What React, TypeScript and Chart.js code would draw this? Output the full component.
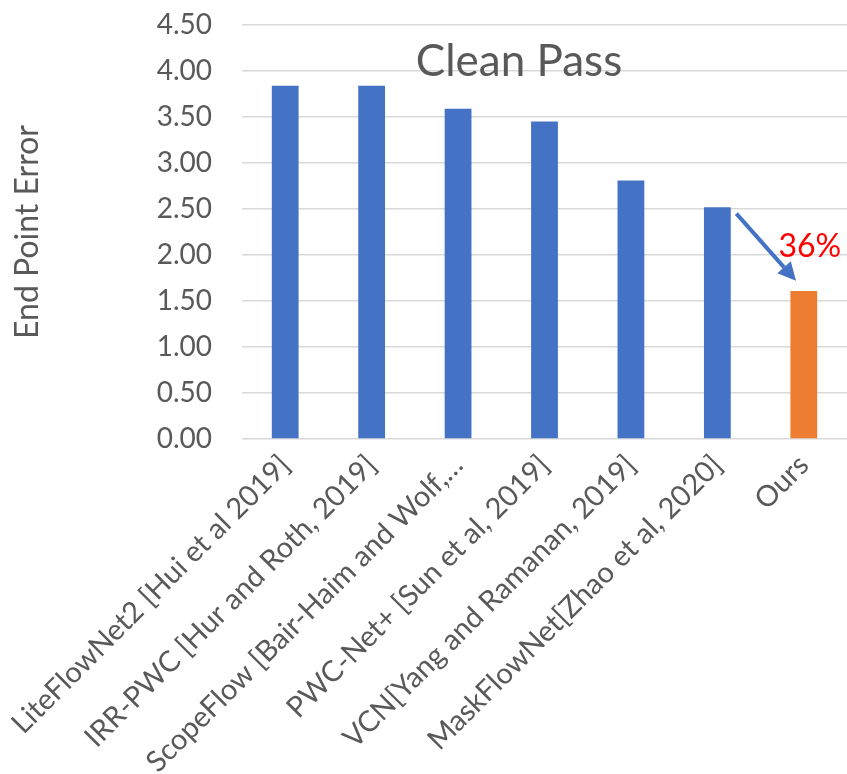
import React, { useEffect, useRef } from "react";
import { Chart, registerables } from "chart.js";

Chart.register(...registerables);

const categories = [
  "LiteFlowNet2 [Hui et al 2019]",
  "IRR-PWC [Hur and Roth, 2019]",
  "ScopeFlow [Bair-Haim and Wolf,…",
  "PWC-Net+ [Sun et al, 2019]",
  "VCN[Yang and Ramanan, 2019]",
  "MaskFlowNet[Zhao et al, 2020]",
  "Ours",
];
const epeValues = [3.84, 3.84, 3.59, 3.45, 2.81, 2.52, 1.61];
const barColors = ["#4472C4", "#4472C4", "#4472C4", "#4472C4", "#4472C4", "#4472C4", "#ED7D31"];
const yTicksMax = 4.5;
const yStep = 0.5;
const chartTitle = "Clean Pass";
const yTitle = "End Point Error";
const reductionLabel = "36%";
// annotation anchors in data units: [category index, value]
const arrowFrom = [5.22, 2.45];
const arrowTo = [5.91, 1.72];
const reductionPos = [6.07, 2.09];
const titlePos = [2.705, 3.95];

const FONT = "Lato, 'Open Sans', sans-serif";
const TEXT = "#595959";

const annotPlugin = {
  id: "annot",
  afterDatasetsDraw(chart: any) {
    const { ctx, scales } = chart;
    const x = scales.x;
    const y = scales.y;
    ctx.save();
    ctx.fillStyle = TEXT;
    ctx.font = `44px ${FONT}`;
    ctx.textAlign = "center";
    ctx.textBaseline = "alphabetic";
    ctx.fillText(chartTitle, x.getPixelForValue(titlePos[0]), y.getPixelForValue(titlePos[1]));
    const x1 = x.getPixelForValue(arrowFrom[0]);
    const y1 = y.getPixelForValue(arrowFrom[1]);
    const x2 = x.getPixelForValue(arrowTo[0]);
    const y2 = y.getPixelForValue(arrowTo[1]);
    const ang = Math.atan2(y2 - y1, x2 - x1);
    const headLen = 18;
    const headW = 9;
    const bx = x2 - headLen * Math.cos(ang);
    const by = y2 - headLen * Math.sin(ang);
    ctx.strokeStyle = "#4472C4";
    ctx.fillStyle = "#4472C4";
    ctx.lineWidth = 4;
    ctx.beginPath();
    ctx.moveTo(x1, y1);
    ctx.lineTo(bx, by);
    ctx.stroke();
    ctx.beginPath();
    ctx.moveTo(x2, y2);
    ctx.lineTo(bx + headW * Math.sin(ang), by - headW * Math.cos(ang));
    ctx.lineTo(bx - headW * Math.sin(ang), by + headW * Math.cos(ang));
    ctx.closePath();
    ctx.fill();
    ctx.fillStyle = "#FF0000";
    ctx.font = `32px ${FONT}`;
    ctx.textAlign = "center";
    ctx.textBaseline = "middle";
    ctx.fillText(reductionLabel, x.getPixelForValue(reductionPos[0]), y.getPixelForValue(reductionPos[1]));
    ctx.restore();
  },
};

export default function App() {
  const ref = useRef<HTMLCanvasElement>(null);
  useEffect(() => {
    document.body.style.margin = "0";
    const chart = new Chart(ref.current as HTMLCanvasElement, {
      type: "bar",
      data: {
        labels: categories,
        datasets: [
          {
            data: epeValues,
            backgroundColor: barColors,
            categoryPercentage: 1,
            barPercentage: 0.31,
          },
        ],
      },
      options: {
        animation: false,
        responsive: true,
        maintainAspectRatio: false,
        layout: { padding: { top: 25, right: 0, left: 0, bottom: 0 } },
        plugins: { legend: { display: false }, tooltip: { enabled: false }, title: { display: false } },
        scales: {
          x: {
            grid: { display: false, drawTicks: false },
            border: { display: false },
            ticks: {
              autoSkip: false,
              maxRotation: 45,
              minRotation: 45,
              color: TEXT,
              padding: 9,
              font: { family: FONT, size: 29 },
            },
            afterFit(scale: any) {
              scale.height = 335;
              scale.paddingLeft = 0;
              scale.paddingRight = 0;
            },
          },
          y: {
            min: 0,
            max: yTicksMax,
            grid: { color: "#d9d9d9", lineWidth: 1.5, drawTicks: false },
            border: { display: false },
            ticks: {
              stepSize: yStep,
              color: TEXT,
              padding: 30,
              font: { family: FONT, size: 28 },
              callback: (v: any) => Number(v).toFixed(2),
            },
            title: {
              display: true,
              text: yTitle,
              color: TEXT,
              font: { family: FONT, size: 32, weight: "normal" },
              padding: { top: 8, bottom: 0 },
            },
            afterFit(scale: any) {
              scale.width = 242;
              scale.paddingTop = 0;
              scale.paddingBottom = 0;
            },
          },
        },
      },
      plugins: [annotPlugin],
    });
    return () => chart.destroy();
  }, []);
  return (
    <div style={{ width: 847, height: 774, position: "relative" }}>
      <canvas ref={ref} />
    </div>
  );
}
